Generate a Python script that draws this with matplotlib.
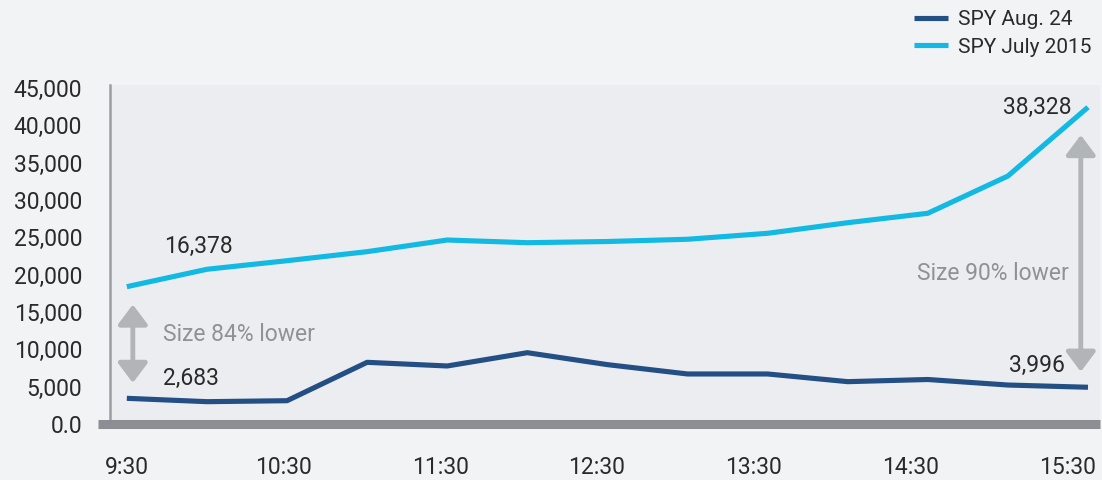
import numpy as np
import matplotlib
matplotlib.use("Agg")
import matplotlib.pyplot as plt
from matplotlib.patches import FancyArrowPatch

plt.rcParams['font.family'] = ['Roboto', 'DejaVu Sans']

# half-hour buckets from 9:30 to 15:30
times = ['9:30', '10:00', '10:30', '11:00', '11:30', '12:00', '12:30',
         '13:00', '13:30', '14:00', '14:30', '15:00', '15:30']
spy_aug24 = [3440, 2990, 3120, 8260, 7770, 9550, 7950, 6700, 6700, 5670, 5960, 5220, 4920]
spy_july2015 = [18390, 20720, 21870, 23080, 24640, 24280, 24440, 24740, 25540, 26960, 28220, 33210, 42420]
tick_labels = ['9:30', '10:30', '11:30', '12:30', '13:30', '14:30', '15:30']
yticks = [0, 5000, 10000, 15000, 20000, 25000, 30000, 35000, 40000, 45000]
ytick_labels = ['0.0', '5,000', '10,000', '15,000', '20,000', '25,000', '30,000', '35,000', '40,000', '45,000']

dark = '#234f85'
light = '#12b9e3'
grey_arrow = '#b2b5b8'
txt = '#2a2a2a'
fs = 16.5

fig = plt.figure(figsize=(11.02, 4.8), dpi=100, facecolor='#f2f3f5')
ax = fig.add_axes([110 / 1102, 56 / 480, 990 / 1102, 339 / 480])
ax.set_facecolor('#ecedf0')

x = np.arange(len(times))
ax.plot(x, spy_aug24, color=dark, lw=3.7, label='SPY Aug. 24', solid_capstyle='butt')
ax.plot(x, spy_july2015, color=light, lw=3.7, label='SPY July 2015', solid_capstyle='butt')

ax.set_xlim(-0.21, 12.15)
ax.set_ylim(0, 45400)
ax.set_yticks(yticks)
ax.set_yticklabels(ytick_labels)
ax.set_xticks(np.linspace(0, 11.74, len(tick_labels)))
ax.set_xticklabels(tick_labels)
ax.tick_params(axis='y', length=0, pad=20, labelsize=fs, labelcolor=txt)
ax.tick_params(axis='x', length=0, pad=23, labelsize=fs, labelcolor=txt)

for s in ['top', 'right', 'bottom']:
    ax.spines[s].set_visible(False)
ax.spines['left'].set_color('#9a9ea3')
ax.spines['left'].set_linewidth(1.8)

# thick base bar
ax.plot([-0.012, 1.0], [0, 0], transform=ax.transAxes, color='#8b8f94',
        lw=6.5, clip_on=False, solid_capstyle='butt', zorder=5)

# arrows
for (ax_x, y0, y1) in [(0.075, 16000, 5500), (11.91, 38700, 7000)]:
    arr = FancyArrowPatch((ax_x, y1), (ax_x, y0), arrowstyle='<|-|>,head_length=0.6,head_width=0.45',
                          mutation_scale=20, color=grey_arrow, lw=3.5, shrinkA=0, shrinkB=0)
    ax.add_patch(arr)

ax.text(0.47, 23840, '16,378', fontsize=fs, color=txt, va='center', ha='left')
ax.text(0.45, 6160, '2,683', fontsize=fs, color=txt, va='center', ha='left')
ax.text(0.45, 11920, 'Size 84% lower', fontsize=fs, color='#8e9297', va='center', ha='left')
ax.text(11.79, 42450, '38,328', fontsize=fs, color=txt, va='center', ha='right')
ax.text(11.76, 20220, 'Size 90% lower', fontsize=fs, color='#8e9297', va='center', ha='right')
ax.text(11.71, 7900, '3,996', fontsize=fs, color=txt, va='center', ha='right')

leg = fig.legend(loc='upper right', bbox_to_anchor=(1.0, 1.0), frameon=False,
                 fontsize=15, handlelength=1.6, handletextpad=0.5, labelspacing=0.4,
                 borderaxespad=0.1)
for t in leg.get_texts():
    t.set_color(txt)

plt.savefig('out.png', dpi=100, facecolor=fig.get_facecolor())
